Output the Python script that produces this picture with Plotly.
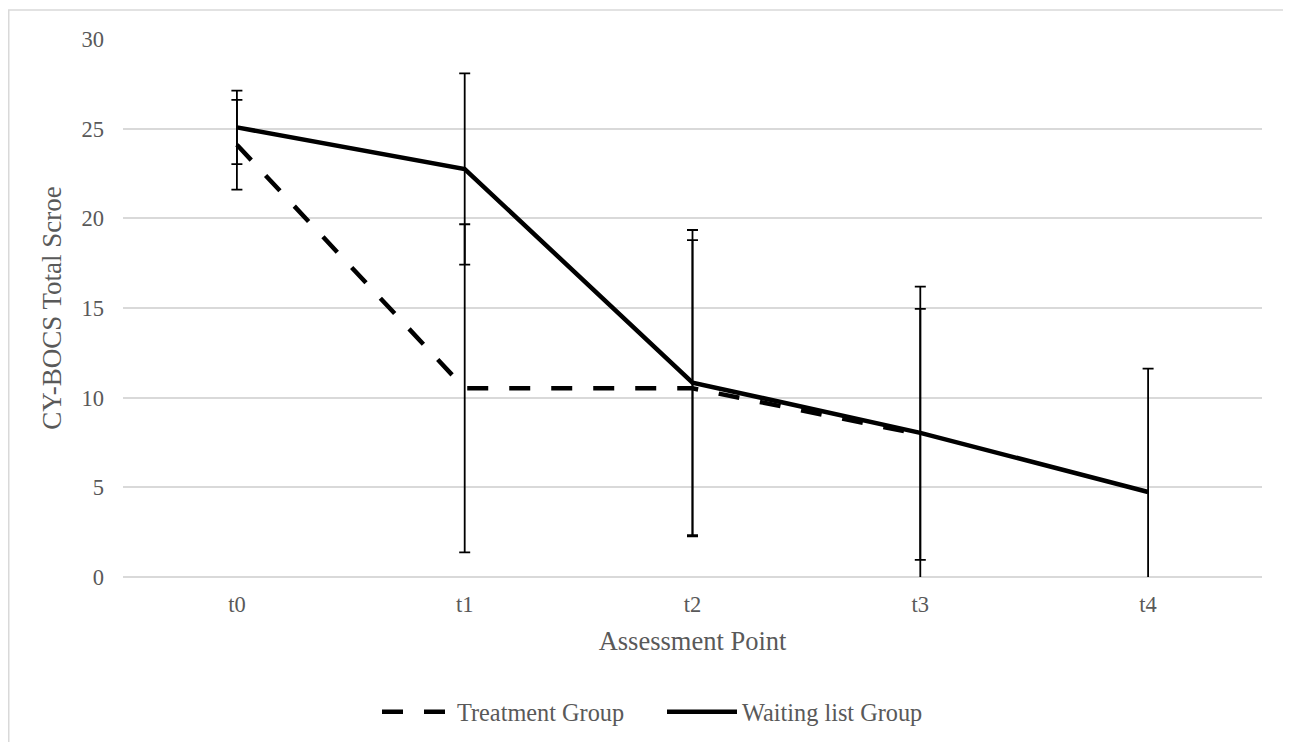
import plotly.graph_objects as go

categories = ["t0", "t1", "t2", "t3", "t4"]
treatment_mean = [24.1, 10.52, 10.52, 7.95, None]
treatment_err = [2.5, 9.15, 8.26, 7.0, None]
waiting_mean = [25.07, 22.75, 10.84, 8.04, 4.74]
waiting_err = [2.05, 5.33, 8.51, 8.15, 6.88]
y_ticks = [0, 5, 10, 15, 20, 25, 30]

FONT = "Liberation Serif, Times New Roman, serif"
GRAY = "#595959"
GRID = "#D9D9D9"

fig = go.Figure()
fig.add_trace(go.Scatter(
    x=categories, y=treatment_mean, name="Treatment Group", mode="lines",
    line=dict(color="black", width=4.5, dash="21px,21px"),
    error_y=dict(type="data", array=treatment_err, visible=True,
                 color="black", thickness=1.8, width=5.5),
))
fig.add_trace(go.Scatter(
    x=categories, y=waiting_mean, name="Waiting list Group", mode="lines",
    line=dict(color="black", width=4.5),
    error_y=dict(type="data", array=waiting_err, visible=True,
                 color="black", thickness=1.8, width=5.5),
))

# page has an 8px body margin; figure coordinates = page coordinates - 8
OFF = 8
W, H = 1291 - OFF, 742 - OFF
L, R, T, B = 123 - OFF, 1262 - OFF, 39 - OFF, 577 - OFF
pw, ph = R - L, B - T

fig.update_layout(
    width=W, height=H,
    margin=dict(l=L, r=W - R, t=T, b=H - B, autoexpand=False),
    paper_bgcolor="white", plot_bgcolor="white",
    font=dict(family=FONT, color=GRAY, size=22),
    showlegend=True,
    legend=dict(orientation="h", x=(662 - OFF - L) / pw, xanchor="center",
                y=-135 / ph, yanchor="middle",
                font=dict(size=24.3, color=GRAY, family=FONT),
                itemwidth=70, entrywidth=200, tracegroupgap=0,
                bgcolor="rgba(0,0,0,0)"),
    xaxis=dict(type="category", categoryorder="array", categoryarray=categories,
               range=[-0.5, 4.5], showgrid=False, showline=False, ticks="",
               zeroline=False, automargin=False,
               tickfont=dict(size=22.5, color=GRAY, family=FONT),
               ticklabelstandoff=11,
               title=dict(text="Assessment Point", standoff=15,
                          font=dict(size=26.5, color=GRAY, family=FONT))),
    yaxis=dict(range=[0, 30], tickvals=y_ticks, showgrid=True, gridcolor=GRID,
               gridwidth=1.5, zeroline=True, zerolinecolor=GRID, zerolinewidth=1.5,
               showline=False, ticks="", automargin=False,
               tickfont=dict(size=22.5, color=GRAY, family=FONT),
               ticklabelstandoff=18,
               title=dict(text="CY-BOCS Total Scroe", standoff=12,
                          font=dict(size=27, color=GRAY, family=FONT))),
    shapes=[dict(type="rect", xref="paper", yref="paper",
                 x0=(0.75 - L) / pw, x1=(1289.5 - OFF - L) / pw,
                 y0=(B - 760) / ph, y1=(B - 2) / ph,
                 line=dict(color=GRID, width=1.5), fillcolor="rgba(0,0,0,0)",
                 layer="below")],
)

fig.write_html("out.html")
